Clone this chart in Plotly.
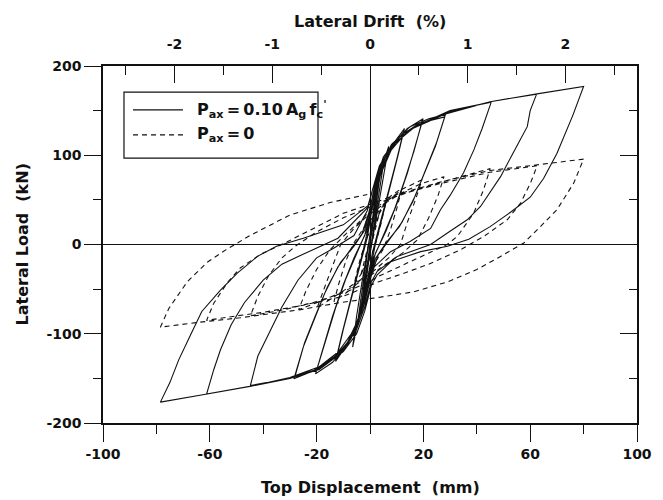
import plotly.graph_objects as go

# ---------------- data ----------------
# Solid series: P_ax = 0.10 Ag f'c   (displacement mm, load kN), one line per cycle
solid_disp = [
    0, 1.5, 3.5, 2, 0, -1.5, -3.5, -2, 0,
    1.5, 3.5, 5.2, 3.5, 1.5, -0.5, -2.5, -5, -3.5, -1.5, 0.5,
    3, 5, 7, 5, 3, 0.5, -1.5, -4, -6.5, -5, -3, -0.5, 1.5,
    4, 8, 12.9, 10.5, 8, 5, 2, 0, -3, -7, -12.9, -10.5, -8, -5, -2, 0,
    3, 7, 12.5, 10, 7, 4, 1, -1, -4, -8, -12.5, -10, -7, -4, -1, 0.5,
    3, 8, 14, 19.9, 17, 14, 10, 6, 2, 0, -3, -8, -14, -20.4, -17, -14, -10, -6, -2, 0,
    3, 8, 14, 19.5, 16.5, 13, 9, 5, 1.5, -0.5, -3.5, -8.5, -14, -20, -16.5, -13, -9, -5, -1.5, 0.5,
    3, 8, 15, 22, 28.3, 25, 21, 17, 12, 7, 3, 0.5, -2, -6, -12, -20, -28.5, -25, -21, -17, -12, -7, -3, -0.5,
    2, 6, 12, 20, 28, 24.5, 20.5, 16, 11, 6, 2, 0, -2.5, -7, -13, -21, -28, -24.5, -20.5, -16, -11, -6, -2, 0,
    2, 5, 10, 18, 30, 45.4, 42, 38.9, 35, 30, 26.4, 22.7, 15, 7.7, 1.3, -1, -3, -7, -13, -20,
    -30, -44.8, -42, -38, -33, -27, -20, -13, -6, -1,
    1, 4, 9, 17, 28, 45, 62.4, 60, 58.9, 53.5, 48.9, 41.4, 36.4, 29, 22.7, 10.2, 2.7, 0.5, -2, -5,
    -10, -19, -30, -45, -61.2, -58.5, -56, -52, -47, -40, -33, -23, -12, -1,
    1, 3.5, 8, 16, 28, 45, 62, 80, 76, 70, 65, 60, 53, 45, 37, 29, 19, 8, 2.7, 0.5,
    -2, -5, -10, -19, -30, -45, -61, -78.5, -75, -71.6, -67, -63, -56, -49.7, -42, -35, -25, -10, -1,
]
solid_load = [
    0, 40, 72, 38, 2, -38, -75, -40, -2,
    45, 75, 93, 60, 20, -25, -60, -95, -62, -22, 22,
    65, 92, 110, 75, 40, -5, -40, -80, -115, -80, -42, 0, 35,
    80, 110, 130, 100, 70, 35, 0, -30, -70, -105, -131, -100, -70, -35, 0, 30,
    70, 103, 126, 95, 60, 25, -8, -40, -80, -110, -127, -95, -60, -25, 8, 35,
    75, 110, 130, 141, 110, 80, 45, 15, -10, -35, -75, -110, -132, -145, -110, -80, -45, -15, 10, 35,
    72, 106, 127, 138, 105, 72, 38, 10, -14, -40, -78, -110, -129, -141, -105, -72, -38, -10, 14, 40,
    80, 112, 132, 141, 146, 115, 85, 55, 25, 5, -12, -35, -65, -100, -125, -140, -150.5, -115, -85, -55, -25, -5, 12, 35,
    68, 100, 124, 137, 143, 110, 80, 48, 20, 2, -16, -38, -70, -104, -127, -141, -147, -110, -80, -48, -20, -2, 16, 40,
    70, 98, 118, 134, 150, 159.5, 130, 106, 80, 55, 39, 18, 3.4, -8, -26, -45, -75, -100, -125, -140,
    -150, -158, -125, -100, -70, -40, -15, -3, 10, 38,
    62, 90, 113, 132, 147, 160, 168.5, 150, 132, 102, 76, 42.6, 27.7, 12.8, 0, -13.4, -30, -42, -70, -95,
    -116, -137, -149, -159, -167.6, -140, -118, -90, -65, -40, -22, -8, 7, 41,
    63, 88, 110, 130, 146, 160, 168.5, 177, 145, 102, 74, 53, 37, 20, 6, -2, -8, -19, -34, -46,
    -75, -100, -120, -140, -150, -159, -167.6, -176.6, -155, -129, -100, -75, -51, -32, -13, -2, 7, 22, 43,
]

# Dashed series: P_ax = 0
dashed_disp = [
    0, 2, 3.5, 1.5, -0.5, -3.5, -1.5, 0.5,
    3, 6, 4, 1.5, -1.5, -6, -4, -1.5, 1.5,
    5, 8, 12, 10, 7.5, 5, 2, -2, -7, -13.5, -11.5, -9, -6, -2, 2,
    7, 12, 19.5, 17, 14, 11.4, 7, 2, 0, -8, -14, -19.8, -17, -14, -11, -6, -1,
    5, 12, 19, 27.7, 25.5, 22, 17.7, 12, 5, 0, -8, -18, -26.7, -24, -20, -15, -9, -3, 0,
    8, 18, 28, 45, 42.5, 38.8, 32.7, 28.9, 18, 10, 3, 0, -8, -20, -32, -44.8, -42, -38, -33, -28, -20, -10, 0,
    10, 26, 45, 62.6, 60.1, 56.4, 51.4, 42.6, 33.9, 22, 12, 3, 0, -10, -25, -40, -50, -61.2,
    -58.5, -53.5, -48.5, -41, -31, -20, -10, 0,
    10, 26.4, 45, 62, 80, 76.3, 70, 63.8, 57.6, 48.9, 40, 28.9, 16.4, 3.9, -11, -26, -48.5, -63.5, -78.5,
    -75.4, -68.5, -61, -54, -45, -30, -15, -1,
]
dashed_load = [
    0, 22, 35, 10, -12, -35, -10, 12,
    32, 48, 22, -5, -25, -45, -20, 5, 25,
    45, 55, 63, 40, 15, -5, -20, -35, -50, -64, -42, -18, 2, 20, 33,
    50, 62, 72.5, 50, 25, 0, -15, -28, -33, -48, -60, -71, -48, -24, 0, 18, 32,
    45, 58, 68, 76, 55, 30, 5, -10, -24, -35, -50, -63, -73, -52, -28, -6, 12, 28, 38,
    52, 62, 71, 85, 61, 35, 9, 0, -15, -26, -36, -41, -52, -64, -73, -80, -58, -35, -15, -2, 14, 30, 42,
    55, 68, 81, 88.2, 68.8, 46.4, 27.7, 9, -6, -22, -33, -42, -46, -58, -68, -76, -80, -85,
    -65.7, -43, -26, -11, 3, 20, 35, 45,
    56, 70, 83, 89, 95.7, 68.8, 38.9, 20, 1.6, -13.4, -28, -42, -53, -59, -65, -73, -82, -87, -92.6,
    -72, -42, -20, -6, 10, 33, 47, 56,
]

x_ticks = [-100, -60, -20, 20, 60, 100]
x_ticktext = ["-100", "-60", "-20", "20", "60", "100"]
y_ticks = [-200, -100, 0, 100, 200]
y_ticktext = ["-200", "-100", "0", "100", "200"]
drift_ticks = [-2, -1, 0, 1, 2]
drift_ticktext = ["-2", "-1", "0", "1", "2"]
mm_per_percent_drift = 36.6   # 1 % lateral drift = 36.6 mm top displacement
x_range = [-100, 100]
y_range = [-200, 200]

x_title = "Top Displacement\u00a0 (mm)"
y_title = "Lateral Load\u00a0 (kN)"
drift_title = "Lateral Drift\u00a0 (%)"

TS = "\u2009"  # thin space
series_names = [
    f"P<sub>ax</sub>{TS}={TS}0.10{TS}A<sub>g</sub>{TS}f<sub>c</sub><sup>'</sup>",
    f"P<sub>ax</sub>{TS}={TS}0",
]
series_dash = ["solid", "5px,4px"]

FONT = "DejaVu Sans"
BLACK = "#111111"

fig = go.Figure()
fig.add_trace(go.Scatter(
    x=solid_disp, y=solid_load, mode="lines",
    line=dict(color=BLACK, width=1.1, dash=series_dash[0]),
    name=series_names[0], showlegend=False,
))
fig.add_trace(go.Scatter(
    x=dashed_disp, y=dashed_load, mode="lines",
    line=dict(color=BLACK, width=1.1, dash=series_dash[1]),
    name=series_names[1], showlegend=False,
))
# invisible helpers so the overlay axes (top drift axis, right mirror axis) are drawn
fig.add_trace(go.Scatter(x=[x_range[0] / mm_per_percent_drift, x_range[1] / mm_per_percent_drift],
                         y=y_range, xaxis="x2", yaxis="y", mode="markers",
                         marker=dict(opacity=0), showlegend=False, hoverinfo="skip"))
fig.add_trace(go.Scatter(x=x_range, y=y_range, xaxis="x", yaxis="y2", mode="markers",
                         marker=dict(opacity=0), showlegend=False, hoverinfo="skip"))

# ---- legend box drawn in paper coordinates ----
leg_x0, leg_x1, leg_y0, leg_y1 = 0.0393, 0.4026, 0.742, 0.927
row_y = [0.877, 0.807]
line_x0, line_x1, text_x = 0.0562, 0.1498, 0.172
shapes = [dict(type="rect", xref="paper", yref="paper", x0=leg_x0, x1=leg_x1, y0=leg_y0, y1=leg_y1,
               line=dict(color=BLACK, width=1.2), fillcolor="white", layer="above")]
annotations = []
for ry, nm, ds in zip(row_y, series_names, series_dash):
    shapes.append(dict(type="line", xref="paper", yref="paper", x0=line_x0, x1=line_x1, y0=ry, y1=ry,
                       line=dict(color=BLACK, width=1.1, dash=ds), layer="above"))
    annotations.append(dict(xref="paper", yref="paper", x=text_x, y=ry, xanchor="left", yanchor="middle",
                            text=nm, showarrow=False,
                            font=dict(family=FONT, size=16, color=BLACK, weight="bold")))

tickfont = dict(family=FONT, size=14, color=BLACK, weight="bold")
titlefont = dict(family=FONT, size=16, color=BLACK, weight="bold")

# axis titles as annotations, placed relative to the plot frame
annotations.append(dict(xref="paper", yref="paper", x=0.5, y=0, yshift=-64, xanchor="center",
                        yanchor="middle", text=x_title, showarrow=False, font=titlefont))
annotations.append(dict(xref="paper", yref="paper", x=0.5, y=1, yshift=45, xanchor="center",
                        yanchor="middle", text=drift_title, showarrow=False, font=titlefont))
annotations.append(dict(xref="paper", yref="paper", x=0, y=0.5, xshift=-81, xanchor="center",
                        yanchor="middle", text=y_title, textangle=-90, showarrow=False, font=titlefont))

fig.update_layout(
    width=663, height=500,
    margin=dict(l=103, r=26, t=66, b=77, autoexpand=False),
    paper_bgcolor="white", plot_bgcolor="white",
    showlegend=False,
    shapes=shapes, annotations=annotations,
    xaxis=dict(
        range=x_range, tickmode="array", tickvals=x_ticks, ticktext=x_ticktext,
        ticks="outside", ticklen=17, tickwidth=1.2, tickcolor=BLACK,
        minor=dict(dtick=20, tick0=0, ticks="outside", ticklen=9, tickwidth=1.2, tickcolor=BLACK),
        showline=True, linecolor=BLACK, linewidth=1.5, automargin=False,
        showgrid=False, zeroline=True, zerolinecolor=BLACK, zerolinewidth=1.3,
        tickfont=tickfont,
    ),
    yaxis=dict(
        range=y_range, tickmode="array", tickvals=y_ticks, ticktext=y_ticktext,
        ticks="outside", ticklen=17, tickwidth=1.2, tickcolor=BLACK,
        minor=dict(dtick=50, tick0=0, ticks="outside", ticklen=8, tickwidth=1.2, tickcolor=BLACK),
        showline=True, linecolor=BLACK, linewidth=1.5, automargin=False,
        showgrid=False, zeroline=True, zerolinecolor=BLACK, zerolinewidth=1.3,
        tickfont=tickfont,
    ),
    xaxis2=dict(
        overlaying="x", side="top", anchor="y",
        range=[x_range[0] / mm_per_percent_drift, x_range[1] / mm_per_percent_drift],
        tickmode="array", tickvals=drift_ticks, ticktext=drift_ticktext,
        ticks="inside", ticklen=17, tickwidth=1.2, tickcolor=BLACK,
        minor=dict(dtick=0.5, tick0=0, ticks="inside", ticklen=9, tickwidth=1.2, tickcolor=BLACK),
        showline=True, linecolor=BLACK, linewidth=1.5, automargin=False,
        showgrid=False, zeroline=False,
        tickfont=tickfont, ticklabelstandoff=10,
    ),
    yaxis2=dict(
        overlaying="y", side="right", anchor="x",
        range=y_range, tickmode="array", tickvals=y_ticks,
        ticks="inside", ticklen=17, tickwidth=1.2, tickcolor=BLACK,
        minor=dict(dtick=50, tick0=0, ticks="inside", ticklen=8, tickwidth=1.2, tickcolor=BLACK),
        showline=True, linecolor=BLACK, linewidth=1.5, automargin=False,
        showgrid=False, zeroline=False, showticklabels=False,
    ),
)

fig.write_html("out.html")
